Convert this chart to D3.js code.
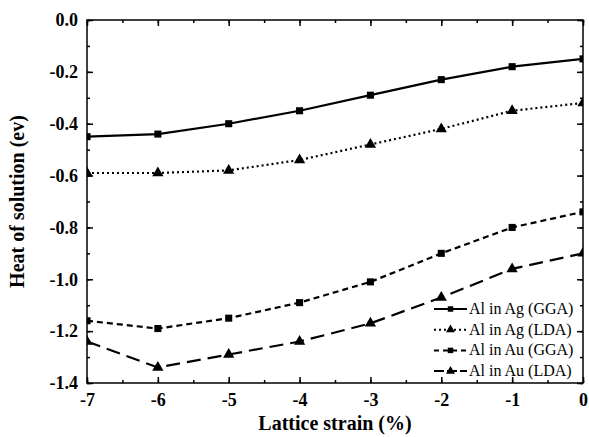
<!DOCTYPE html>
<html><head><meta charset="utf-8">
<script src="https://cdn.jsdelivr.net/npm/d3@7"></script>
<style>body{margin:0;background:#fff}svg{display:block}</style>
</head><body>
<svg id="c" width="589" height="437"></svg>
<script>
const strain = [-7, -6, -5, -4, -3, -2, -1, 0];
const agGGA = [-0.45, -0.44, -0.40, -0.35, -0.29, -0.23, -0.18, -0.15];
const agLDA = [-0.59, -0.59, -0.58, -0.54, -0.48, -0.42, -0.35, -0.32];
const auGGA = [-1.16, -1.19, -1.15, -1.09, -1.01, -0.90, -0.80, -0.74];
const auLDA = [-1.24, -1.34, -1.29, -1.24, -1.17, -1.07, -0.96, -0.90];
const seriesNames = ["Al in Ag (GGA)", "Al in Ag (LDA)", "Al in Au (GGA)", "Al in Au (LDA)"];
const xTicks = [-7, -6, -5, -4, -3, -2, -1, 0];
const yTicks = [0, -0.2, -0.4, -0.6, -0.8, -1.0, -1.2, -1.4];

const svg = d3.select("#c");
const L = 87, R = 583, T = 20, B = 383;
const x = d3.scaleLinear().domain([-7, 0]).range([L, R]);
const y = d3.scaleLinear().domain([-1.4, 0]).range([B, T]);
const font = '"Liberation Serif"';
const hy = s => s.replace(/\u2212/g, "-");

const series = [
  {name: seriesNames[0], vals: agGGA, dash: null, ldash: null, marker: "square"},
  {name: seriesNames[1], vals: agLDA, dash: "2,3", ldash: "2,3", marker: "triangle"},
  {name: seriesNames[2], vals: auGGA, dash: "6,4", ldash: "5,4", marker: "square"},
  {name: seriesNames[3], vals: auLDA, dash: "14,7", ldash: "10,3", marker: "triangle"}
];

svg.append("defs").append("clipPath").attr("id","pc")
  .append("rect").attr("x", L).attr("y", T).attr("width", R-L).attr("height", B-T);

const line = d3.line().x((d,i)=>x(strain[i])).y(d=>y(d));
const g = svg.append("g").attr("clip-path","url(#pc)");
const sq = d3.symbol().type(d3.symbolSquare).size(50);
const tri = d3.symbol().type(d3.symbolTriangle).size(55);

series.forEach(s => {
  g.append("path").datum(s.vals).attr("d", line)
    .attr("fill","none").attr("stroke","#000").attr("stroke-width",2.2)
    .attr("stroke-dasharray", s.dash);
  g.selectAll(null).data(s.vals).enter().append("path")
    .attr("d", s.marker === "square" ? sq : tri)
    .attr("transform", (d,i)=>`translate(${x(strain[i])},${y(d)})`)
    .attr("fill","#000");
});

svg.append("rect").attr("x",L).attr("y",T).attr("width",R-L).attr("height",B-T)
  .attr("fill","none").attr("stroke","#000").attr("stroke-width",1.5);

const xMinor = d3.range(-7, 0.01, 0.5);
const yMinor = d3.range(-1.4, 0.001, 0.1).map(v=>+v.toFixed(2));
svg.append("g").attr("transform",`translate(0,${B})`)
  .call(d3.axisBottom(x).tickValues(xTicks).tickSize(-6).tickPadding(10).tickFormat(d => hy(d3.format("d")(d))));
svg.append("g").attr("transform",`translate(0,${T})`)
  .call(d3.axisTop(x).tickValues(xTicks).tickSize(-6).tickFormat(""));
svg.append("g").attr("transform",`translate(${L},0)`)
  .call(d3.axisLeft(y).tickValues(yTicks).tickSize(-6).tickPadding(9).tickFormat(d => hy(d3.format(".1f")(d))));
svg.append("g").attr("transform",`translate(${R},0)`)
  .call(d3.axisRight(y).tickValues(yTicks).tickSize(-6).tickFormat(""));
svg.append("g").attr("transform",`translate(0,${B})`)
  .call(d3.axisBottom(x).tickValues(xMinor).tickSize(-3).tickFormat(""));
svg.append("g").attr("transform",`translate(0,${T})`)
  .call(d3.axisTop(x).tickValues(xMinor).tickSize(-3).tickFormat(""));
svg.append("g").attr("transform",`translate(${L},0)`)
  .call(d3.axisLeft(y).tickValues(yMinor).tickSize(-3).tickFormat(""));
svg.append("g").attr("transform",`translate(${R},0)`)
  .call(d3.axisRight(y).tickValues(yMinor).tickSize(-3).tickFormat(""));
svg.selectAll(".domain").remove();
svg.selectAll(".tick line").attr("stroke","#000").attr("stroke-width",1.5);
svg.selectAll("g").attr("font-family", null);
svg.selectAll(".tick text").style("font-family",font).attr("font-size",18)
  .attr("font-weight","bold").attr("fill","#000");

svg.append("text").attr("x", (L+R)/2).attr("y", 430).attr("text-anchor","middle")
  .style("font-family",font).attr("font-size",20).attr("font-weight","bold").text("Lattice strain (%)");
svg.append("text").attr("transform",`translate(24,${(T+B)/2}) rotate(-90)`).attr("text-anchor","middle")
  .style("font-family",font).attr("font-size",20).attr("font-weight","bold").text("Heat of solution (ev)");

const lg = svg.append("g");
series.forEach((s,i) => {
  const yy = 309 + i*20.7;
  lg.append("line").attr("x1",434).attr("x2",467).attr("y1",yy).attr("y2",yy)
    .attr("stroke","#000").attr("stroke-width",2).attr("stroke-dasharray", s.ldash);
  lg.append("path").attr("d", s.marker === "square" ? d3.symbol().type(d3.symbolSquare).size(30) : d3.symbol().type(d3.symbolTriangle).size(35))
    .attr("transform",`translate(450.5,${yy})`).attr("fill","#000");
  lg.append("text").attr("x",469).attr("y",yy+5).style("font-family",font).attr("font-size",16)
    .attr("fill","#000").text(s.name);
});
</script>
</body></html>
